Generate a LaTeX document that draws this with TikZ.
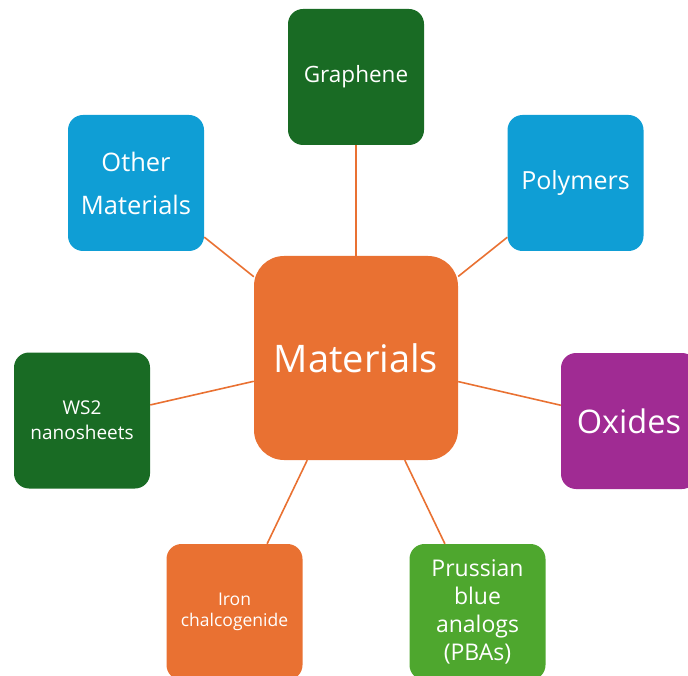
\documentclass[tikz,border=0pt]{standalone}
\usepackage{fontspec}
\setmainfont{Open Sans}
\definecolor{morange}{HTML}{E97132}
\definecolor{dgreen}{HTML}{196B24}
\definecolor{mblue}{HTML}{0F9ED5}
\definecolor{mpurple}{HTML}{A02B93}
\definecolor{lgreen}{HTML}{4EA72E}
\begin{document}
\begin{tikzpicture}[x=1pt,y=-1pt,
  box/.style={rectangle, rounded corners=15pt, minimum width=136pt, minimum height=136pt, text=white, align=center, inner sep=2pt},
  link/.style={draw=morange, line width=1.6pt}]
\useasboundingbox (0,0) rectangle (688,676);
\clip (0,0) rectangle (688,676);
\node[box, fill=morange, minimum width=204pt, minimum height=204pt, rounded corners=30pt, font=\fontsize{38}{44}\selectfont] (mat) at (356,358) {Materials};
\node[box, fill=dgreen, font=\fontsize{22.5}{26}\selectfont] (gra) at (356,77) {Graphene};
\node[box, fill=mblue, font=\fontsize{25}{40}\selectfont] (pol) at (575.5,183) {Polymers};
\node[box, fill=mblue, font=\fontsize{25.5}{43}\selectfont] (oth) at (136,183) {Other\\Materials};
\node[box, fill=dgreen, font=\fontsize{19}{25}\selectfont] (ws) at (82,420.5) {WS2\\nanosheets};
\node[box, fill=mpurple, font=\fontsize{32.5}{36}\selectfont] (oxi) at (629,421) {Oxides};
\node[box, fill=morange, font=\fontsize{17.5}{21}\selectfont] (iro) at (234.5,612) {Iron\\chalcogenide};
\node[box, fill=lgreen, font=\fontsize{23}{28}\selectfont] (pba) at (477.5,612) {Prussian\\blue\\analogs\\(PBAs)};
\foreach \n in {gra,pol,oth,ws,oxi,iro,pba}
  \path[link] (mat) -- (\n);
\end{tikzpicture}
\end{document}
